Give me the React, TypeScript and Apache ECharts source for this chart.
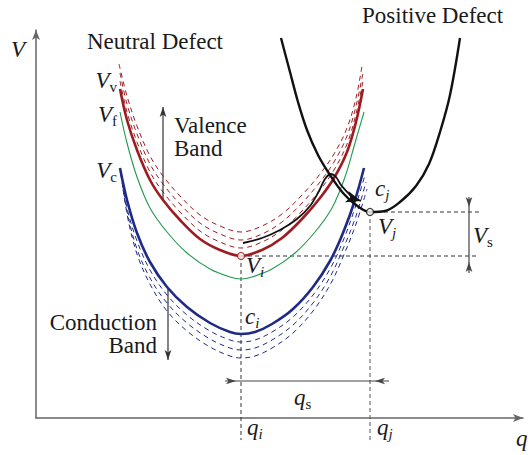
import React, { useEffect, useRef } from 'react';
import * as echarts from 'echarts';

// Units: q and V in arbitrary schematic units.
const valenceMain = [[84,329],[91,298],[101,268],[114,238],[127,218],[144,198],[164,179],[184,168],[205,162],[226,168],[246,180],[266,199],[284,220],[298,240],[311,266],[320,296],[327,329]];
const valenceBand1 = [[84,337],[91,306],[101,276],[114,246],[127,226],[144,206],[164,187],[184,176],[205,170],[226,176],[246,188],[266,207],[284,228],[298,248],[311,274],[320,304],[327,337]];
const valenceBand2 = [[84,345],[91,314],[101,284],[114,254],[127,234],[144,214],[164,195],[184,184],[205,178],[226,184],[246,196],[266,215],[284,236],[298,256],[311,282],[320,312],[327,345]];
const valenceBand3 = [[83,354],[91,322],[101,292],[114,262],[127,242],[144,222],[164,203],[184,192],[205,186],[226,192],[246,204],[266,223],[284,244],[298,264],[311,290],[320,320],[326,352]];

const conductionMain = [[84,250],[91,218],[101,185],[114,156],[131,131],[151,111],[174,95],[194,86],[205,84],[219,86],[236,94],[257,109],[277,131],[294,157],[307,185],[319,218],[328,250]];
const conductionBand1 = [[85,243],[91,210],[101,177],[114,148],[131,123],[151,103],[174,87],[194,78],[205,76],[219,78],[236,86],[257,101],[277,123],[294,149],[307,177],[319,210],[329,243]];
const conductionBand2 = [[86,236],[92,202],[101,169],[114,140],[131,115],[151,95],[174,79],[194,70],[205,68],[219,70],[236,78],[257,93],[277,115],[294,141],[307,169],[320,202],[330,236]];
const conductionBand3 = [[87,229],[93,194],[102,161],[115,132],[131,107],[151,87],[174,71],[194,62],[205,60],[219,62],[236,70],[257,85],[277,107],[294,133],[307,161],[320,194],[331,229]];

const fermiCurve = [[84,306],[91,275],[101,241],[114,210],[131,186],[151,165],[174,149],[194,141],[205,139],[216,141],[236,149],[259,165],[279,186],[296,210],[309,241],[319,275],[328,306]];

const positiveCurve = [[245,380],[254,346],[262,316],[271,288],[282,263],[294,243],[307,225],[320,213],[334,206],[349,207],[364,216],[380,232],[393,254],[404,286],[414,323],[424,380]];

const transferPath = [[207,175],[226,180],[244,188],[261,199],[274,212],[283,227],[289,239],[295,244],[300,241],[305,233],[313,224],[316,221]];
const transferHead = [325,217];

const pointVi = [205,162];
const pointVj = [334,206];
const axisQMax = 487;
const axisVMax = 388;
const belowAxis = -22;
const guideEnd = 443;
const qsLevel = 37;
const qsLeft = 189, qsRight = 353;
const vsQ = 433, vsTop = 221, vsBottom = 145;

const RED = '#9d1c21';
const BLUE = '#1f2a86';
const GREEN = '#1e9a4e';
const BLACK = '#111111';
const FAMILY = 'Liberation Serif, serif';
const INK = '#1a1a1a';

const curve = (data: any[], color: string, width: number, type: any = 'solid', z = 2) => ({
  type: 'line', data, symbol: 'none', smooth: 0.35, silent: true, clip: false, z,
  lineStyle: { color, width, type }, itemStyle: { color },
});
const straight = (data: any[], color: string, width: number, type: any = 'solid', z = 3) => ({
  type: 'line', data, symbol: 'none', smooth: false, silent: true, clip: false, z,
  lineStyle: { color, width, type }, itemStyle: { color },
});
const head = (value: number[], rotate: number, size: number[] = [5, 10]) => ({
  value, symbol: 'arrow', symbolSize: size, symbolRotate: rotate,
});

const tok = (size: number, italic: boolean, lineHeight: number, extra: any = {}) => ({
  fontSize: size, fontStyle: italic ? 'italic' : 'normal',
  fontFamily: FAMILY, fill: INK, lineHeight, ...extra,
});

const mathLabel = (x: number, y: number, main: string, sub: string, subItalic: boolean, align = 'left') => ({
  type: 'text', x, y, z: 10,
  style: {
    text: sub ? `{m|${main}}{${subItalic ? 'si' : 's'}|${sub}}` : `{m|${main}}`,
    align, verticalAlign: 'middle',
    fontFamily: FAMILY, fontSize: 23, fontStyle: 'italic',
    rich: {
      m: tok(23, true, 28),
      s: tok(15, false, 12, { verticalAlign: 'bottom' }),
      si: tok(15, true, 12, { verticalAlign: 'bottom' }),
    },
  },
});
const plainLabel = (x: number, y: number, text: string, align = 'left') => ({
  type: 'text', x, y, z: 10,
  style: {
    text, align, verticalAlign: 'middle',
    fontFamily: FAMILY, fontSize: 23, lineHeight: 23, fill: INK,
  },
});

export default function App() {
  const ref = useRef<HTMLDivElement>(null);
  useEffect(() => {
    if (!ref.current) return;
    const chart = echarts.init(ref.current, undefined, { renderer: 'svg' });
    const axisCommon = {
      type: 'value', splitLine: { show: false }, axisTick: { show: false }, axisLabel: { show: false },
      axisLine: { show: true, symbol: ['none', 'arrow'], symbolSize: [6, 10], lineStyle: { color: '#666', width: 1.5 } },
    };
    chart.setOption({
      animation: false,
      backgroundColor: '#fff',
      grid: { left: 36, right: 7, top: 30, bottom: 37, containLabel: false, outerBoundsMode: 'none' },
      xAxis: { ...axisCommon, min: 0, max: axisQMax },
      yAxis: { ...axisCommon, min: 0, max: axisVMax },
      series: [
        straight([[pointVi[0], pointVi[1]], [pointVi[0], belowAxis]], '#333', 1, [4, 3], 1),
        straight([[pointVj[0], pointVj[1]], [pointVj[0], belowAxis]], '#555', 1, [4, 3], 1),
        straight([[pointVi[0], pointVi[1]], [guideEnd, pointVi[1]]], '#333', 1, [4, 3], 1),
        straight([[pointVj[0], pointVj[1]], [guideEnd, pointVj[1]]], '#333', 1, [4, 3], 1),
        curve(valenceBand1, RED, 1, [5, 4]),
        curve(valenceBand2, RED, 1, [5, 4]),
        curve(valenceBand3, RED, 1, [5, 4]),
        curve(conductionBand1, BLUE, 1, [5, 4]),
        curve(conductionBand2, BLUE, 1, [5, 4]),
        curve(conductionBand3, BLUE, 1, [5, 4]),
        curve(fermiCurve, GREEN, 1.1, 'solid', 3),
        curve(valenceMain, RED, 2.6, 'solid', 4),
        curve(conductionMain, BLUE, 2.6, 'solid', 4),
        curve(positiveCurve, BLACK, 2.4, 'solid', 5),
        {
          ...curve([...transferPath, head(transferHead, -107, [9, 15])], BLACK, 1.8, 'solid', 6),
          smooth: 0.3,
        },
        straight([[127, 218], head([127, 311], 0, [5, 10])], '#333', 1.2),
        straight([[132, 130], head([132, 58], 180, [5, 10])], '#333', 1.2),
        straight([[qsLeft, qsLevel], head([200, qsLevel], -90, [5, 10]), head([339, qsLevel], 90, [5, 10]), [qsRight, qsLevel]], '#444', 1.2),
        straight([[vsQ, vsTop], head([vsQ, 211], 180, [5, 10]), head([vsQ, 156], 0, [5, 10]), [vsQ, vsBottom]], '#444', 1.2),
        {
          type: 'scatter', silent: true, z: 8, symbol: 'circle', symbolSize: 7,
          data: [
            { value: pointVi, itemStyle: { color: '#fff', borderColor: RED, borderWidth: 1.3 } },
            { value: pointVj, itemStyle: { color: '#fff', borderColor: BLACK, borderWidth: 1.3 } },
          ],
        },
      ],
      graphic: [
        plainLabel(87, 41, 'Neutral Defect'),
        plainLabel(362, 15, 'Positive Defect'),
        plainLabel(174, 137, 'Valence\nBand'),
        plainLabel(157, 334, 'Conduction\nBand', 'right'),
        mathLabel(11, 49, 'V', '', false),
        mathLabel(516, 438, 'q', '', false),
        mathLabel(117, 80, 'V', 'v', false, 'right'),
        mathLabel(117, 114, 'V', 'f', false, 'right'),
        mathLabel(117, 170, 'V', 'c', false, 'right'),
        mathLabel(246, 265, 'V', 'i', true),
        mathLabel(245, 316, 'c', 'i', true),
        mathLabel(375, 188, 'c', 'j', true),
        mathLabel(378, 226, 'V', 'j', true),
        mathLabel(473, 235, 'V', 's', false),
        mathLabel(294, 397, 'q', 's', false),
        mathLabel(247, 427, 'q', 'i', true),
        mathLabel(377, 427, 'q', 'j', true),
      ],
    });
    return () => chart.dispose();
  }, []);
  return <div ref={ref} style={{ position: 'fixed', left: 0, top: 0, width: 530, height: 455, background: '#fff' }} />;
}
